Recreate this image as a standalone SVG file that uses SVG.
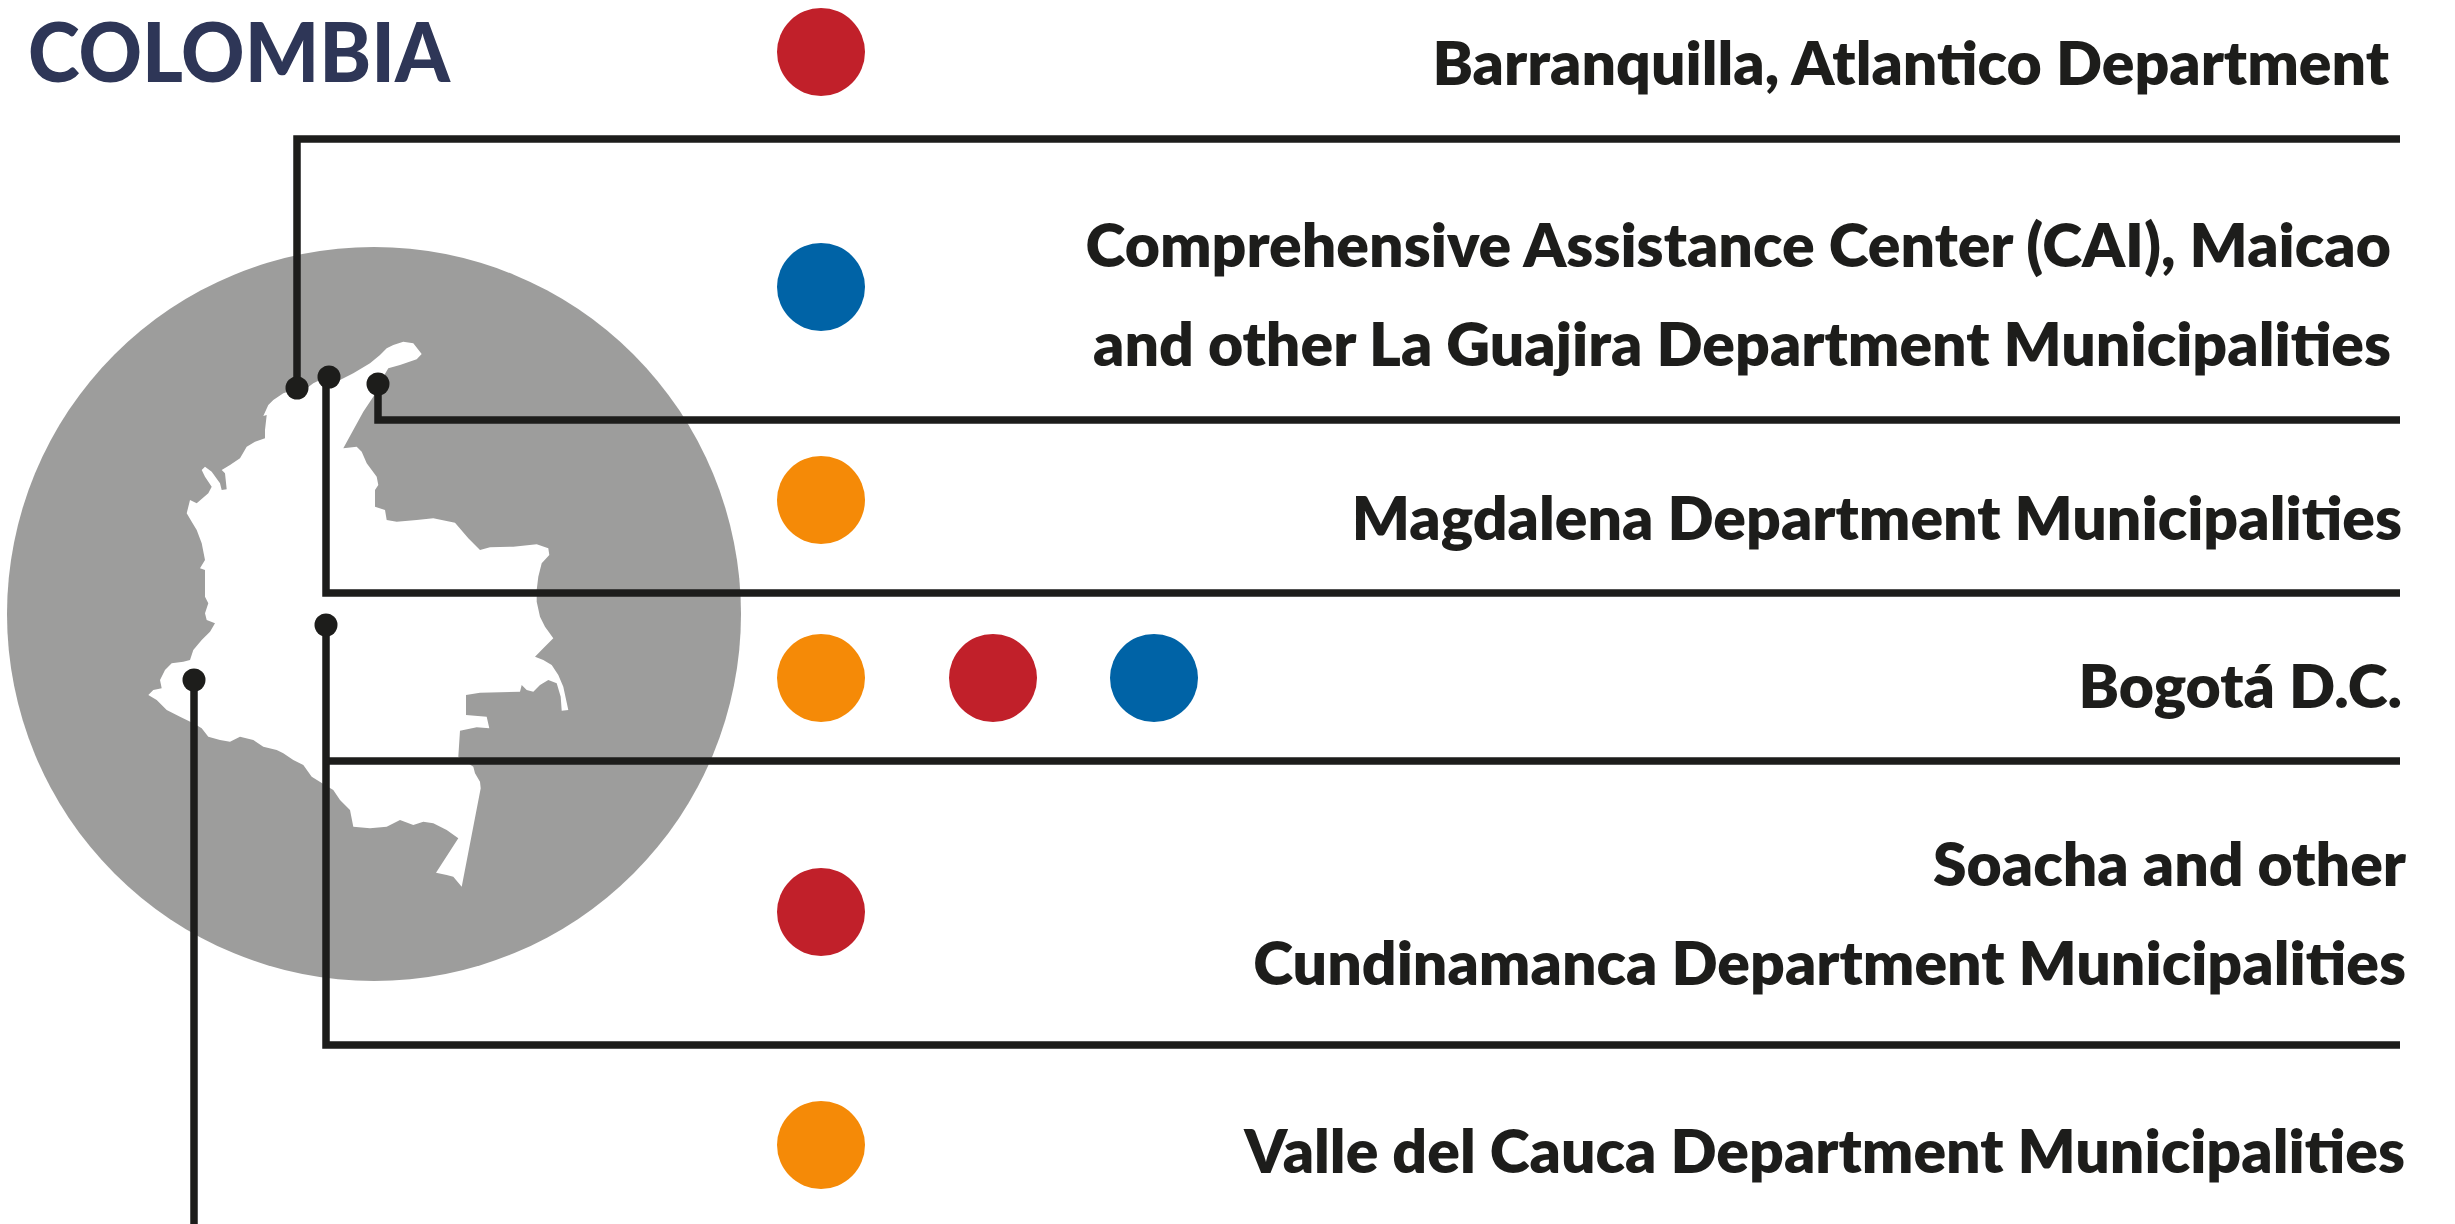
<svg xmlns="http://www.w3.org/2000/svg" width="2455" height="1224" viewBox="0 0 2455 1224">
<style>
.lbl{font-family:Lato,"Liberation Sans",sans-serif;font-weight:800;font-size:60.7px;fill:#1d1d1b;text-anchor:end}
.title{font-family:Lato,"Liberation Sans",sans-serif;font-weight:900;font-size:82px;fill:#2e3657}
.wire{fill:none;stroke:#1d1d1b;stroke-width:7.5;stroke-linejoin:miter;stroke-linecap:butt}
.pin{fill:#1d1d1b}
.red{fill:#c1202a}.blue{fill:#0063a6}.orange{fill:#f58a07}
</style>
<rect width="2455" height="1224" fill="#ffffff"/>
<text class="title" x="28" y="82" textLength="422" lengthAdjust="spacingAndGlyphs">COLOMBIA</text>
<g id="map">
<circle cx="374" cy="614" r="367" fill="#9d9d9c"/>
<path fill="#ffffff" d="M403.3,341.7 L413.3,343.3 L421.7,354 L416.7,359.3 L400,365 L388.3,368.3 L383.3,376.7 L373.3,396.7 L363.3,411.7 L353.3,430 L343.3,448.3 L356.7,446.7 L361.7,451.7 L366.7,463.3 L376.7,476.7 L378.3,485 L375,490 L375,506.7 L385,510 L386.7,520 L396.7,521.7 L416.7,520 L433.3,518.3 L455,522.7 L468.3,538.3 L480,550 L490,547.3 L513.3,546.7 L536.7,544.3 L548.3,548.3 L549.3,555 L541.7,563.3 L538.3,576.7 L536.7,590 L536.7,601.7 L540,616.7 L545,626.7 L553.3,638.3 L543.3,648.3 L535,656.7 L543.3,660 L551.7,665 L558.3,675 L563.3,686.7 L568.3,710 L561.7,710.7 L560.7,696.7 L556.7,683.3 L548.3,680 L540,685 L533.3,691.7 L526.7,690 L521.7,685 L520,691.7 L480,692.7 L466,695 L466,715 L486.7,716.7 L489.3,728.3 L476.7,727.3 L460,730.7 L458.3,756.7 L473.3,766.7 L475,773.3 L480,781.7 L480.7,788.3 L461.7,886.7 L453.3,876.7 L446.7,875 L436,872.7 L458.3,838.3 L446.7,830 L433.3,823.3 L423.3,821.7 L413.3,825 L400,820 L386.7,826.7 L370,828.3 L353.3,826.7 L350,810 L340,800 L333.3,790 L325,785 L311.7,776.7 L303.3,765 L293.3,760 L283.3,753.3 L276.7,750 L263.3,746.7 L253.3,740 L240,736.7 L230,741.7 L220,740 L208.3,736.7 L201.7,728.3 L193.3,723.3 L180,716.7 L166.7,710 L156.7,700 L148.3,695 L153.3,690 L161.7,688.3 L160,680 L165,670 L171.7,663.3 L183.3,661.7 L190,660 L193.3,650 L201.7,640 L210,631.7 L215,623.3 L206.7,620 L205,613.3 L208.3,603.3 L205,596.7 L205,570 L200,568.3 L205,560 L201.7,543.3 L196.7,530 L191.7,521.7 L186.7,513.3 L190,500 L196.7,503.3 L208.3,493.3 L211.7,486.7 L205,476.7 L201.7,470 L205,466.7 L211.7,471.7 L220,483.3 L221.7,490 L226.7,489.3 L225,473.3 L221.7,470 L230,465 L240,458.3 L246.7,446.7 L255,441.7 L265,438.3 L265,430 L266.7,415 L263.3,416 L268.3,405 L273.3,400 L283.3,393.3 L293.3,390 L306.7,388.3 L313.3,383.3 L320,380 L340,380 L353.3,373.3 L370,363.3 L380,355 L386.7,348.3 L393.3,345 Z"/>
</g>
<g id="connectors">
<path class="wire" d="M297,388 V139 H2400"/>
<path class="wire" d="M326,377 V593 H2400"/>
<path class="wire" d="M378,384 V420 H2400"/>
<path class="wire" d="M326,625 V1045 H2400"/>
<path class="wire" d="M326,761 H2400"/>
<path class="wire" d="M194,680 V1224"/>
<circle class="pin" cx="297" cy="388" r="11.5"/>
<circle class="pin" cx="329" cy="377" r="11.5"/>
<circle class="pin" cx="378" cy="384" r="11.5"/>
<circle class="pin" cx="326" cy="625" r="11.5"/>
<circle class="pin" cx="194" cy="680" r="11.5"/>
</g>
<g id="barranquilla">
<circle class="red" cx="821" cy="52" r="44"/>
<text class="lbl" x="2389" y="85">Barranquilla, Atlantico Department</text>
</g>
<g id="laguajira">
<circle class="blue" cx="821" cy="287" r="44"/>
<text class="lbl" x="2391" y="267">Comprehensive Assistance Center (CAI), Maicao</text>
<text class="lbl" x="2391" y="366">and other La Guajira Department Municipalities</text>
</g>
<g id="magdalena">
<circle class="orange" cx="821" cy="500" r="44"/>
<text class="lbl" x="2402" y="540">Magdalena Department Municipalities</text>
</g>
<g id="bogota">
<circle class="orange" cx="821" cy="678" r="44"/>
<circle class="red" cx="993" cy="678" r="44"/>
<circle class="blue" cx="1154" cy="678" r="44"/>
<text class="lbl" x="2402" y="708">Bogotá D.C.</text>
</g>
<g id="cundinamarca">
<circle class="red" cx="821" cy="912" r="44"/>
<text class="lbl" x="2406" y="886">Soacha and other</text>
<text class="lbl" x="2406" y="985">Cundinamanca Department Municipalities</text>
</g>
<g id="valle">
<circle class="orange" cx="821" cy="1145" r="44"/>
<text class="lbl" x="2405" y="1173">Valle del Cauca Department Municipalities</text>
</g>
</svg>
